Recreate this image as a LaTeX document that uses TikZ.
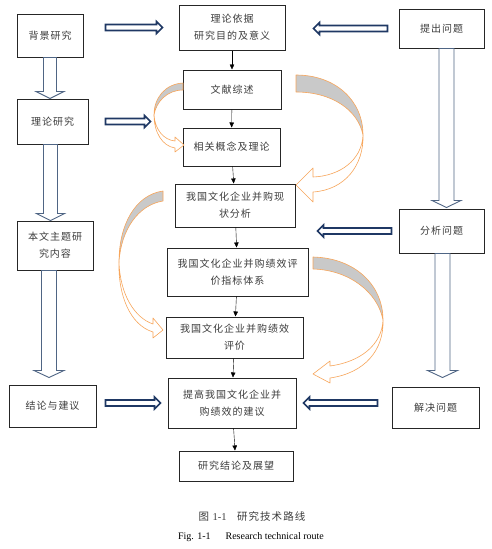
\documentclass[tikz,border=0pt]{standalone}
\usepackage{fontspec}
\setmainfont{Liberation Serif}
\newfontfamily\cjk[LetterSpace=10]{Noto Sans CJK SC}
\usepackage{tikz}
\usetikzlibrary{calc, arrows.meta}

\definecolor{navy}{HTML}{1F3864}
\definecolor{slate}{HTML}{4F6584}
\definecolor{peach}{HTML}{F7A55A}
\definecolor{shade}{HTML}{C9C9C9}
\definecolor{ink}{HTML}{3C3C3C}

\tikzset{
  box/.style={draw=black!85, line width=1pt, fill=white, text=ink, align=center, inner sep=2pt,
    font=\cjk\fontsize{10}{17}\selectfont},
  wh/.style 2 args={minimum width=#1, minimum height=#2},
  flat/.style={draw=navy, line width=1.6pt, fill=white, line join=miter},
  tall/.style={draw=slate, line width=0.9pt, fill=white},
  uturn/.style={draw=peach, line width=0.6pt, line join=round},
}

% hollow block arrow: from, to, half shaft, half head, head length, style
\newcommand{\hollowarrow}[6]{%
  \coordinate (ba-s) at (#1);
  \coordinate (ba-e) at (#2);
  \coordinate (ba-h) at ($(ba-e)!#5!(ba-s)$);
  \draw[#6] ($(ba-s)!#3!90:(ba-e)$) -- ($(ba-h)!#3!-90:(ba-s)$) -- ($(ba-h)!#4!-90:(ba-s)$)
    -- (ba-e) -- ($(ba-h)!#4!90:(ba-s)$) -- ($(ba-h)!#3!90:(ba-s)$) -- ($(ba-s)!#3!-90:(ba-e)$) -- cycle;
}

\begin{document}
\begin{tikzpicture}[x=1pt, y=-1pt, -{Triangle[length=5pt, width=4.5pt]}]
    \useasboundingbox (0,0) rectangle (492,549);
    % left column
    \node[box, wh={66pt}{43pt}] (bj) at (50,35.5) {背景研究};
    \node[box, wh={71pt}{45pt}] (ll) at (52.5,121.5) {理论研究};
    \node[box, wh={76pt}{49pt}] (zt) at (55,245.5) {本文主题研\\究内容};
    \node[box, wh={87pt}{42pt}] (jl) at (52.5,406) {结论与建议};
    % middle column
    \node[box, wh={106pt}{45pt}] (yj) at (232,27.5) {理论依据\\研究目的及意义};
    \node[box, wh={98pt}{39pt}] (wx) at (232,89.5) {文献综述};
    \node[box, wh={97pt}{38pt}] (xg) at (231.5,147) {相关概念及理论};
    \node[box, wh={120pt}{43pt}] (xz) at (235,205.5) {我国文化企业并购现\\状分析};
    \node[box, wh={141pt}{48pt}] (zb) at (237.5,272) {我国文化企业并购绩效评\\价指标体系};
    \node[box, wh={137pt}{41pt}] (pj) at (234.5,337.5) {我国文化企业并购绩效\\评价};
    \node[box, wh={128pt}{50pt}] (jy) at (232,403) {提高我国文化企业并\\购绩效的建议};
    \node[box, wh={114pt}{30pt}] (zw) at (236,466) {研究结论及展望};
    % right column
    \node[box, wh={85pt}{39pt}] (tc) at (441.5,28.5) {提出问题};
    \node[box, wh={85pt}{44pt}] (fx) at (441.5,231) {分析问题};
    \node[box, wh={87pt}{41pt}] (jj) at (435.5,407.5) {解决问题};
    % captions
    \node[font=\cjk\fontsize{10.5}{12}\selectfont, text=ink] (cap) at (252,516) {图 {\rmfamily 1-1}\quad 研究技术路线};
    \node[font=\fontsize{10}{12}\selectfont] (capen) at (251,537) {Fig. 1-1\hspace{1.5em}Research technical route};
    % middle chain
    \draw (yj) -- (wx);
    \draw (wx) -- (xg);
    \draw (xg) -- (xz);
    \draw (xz) -- (zb);
    \draw (zb) -- (pj);
    \draw (pj) -- (jy);
    \draw (jy) -- (zw);
    % horizontal block arrows
    \hollowarrow{$(bj.east |- yj.west)+(22,0)$}{$(yj.west)+(-16,0)$}{3pt}{6pt}{6pt}{flat}
    \hollowarrow{$(ll.east)+(17,0)$}{$(ll.east)+(62,0)$}{3pt}{6pt}{6pt}{flat}
    \hollowarrow{$(tc.west)+(-11,0)$}{$(yj.east |- tc.west)+(28,0)$}{3pt}{6pt}{6pt}{flat}
    \hollowarrow{$(fx.west)+(-7,0)$}{$(xz.east |- fx.west)+(22,0)$}{3pt}{6pt}{6pt}{flat}
    \hollowarrow{$(jl.east |- jy.west)+(9,0)$}{$(jy.west)+(-7,0)$}{3pt}{6pt}{6pt}{flat}
    \hollowarrow{$(jj.west |- jy.east)+(-14,0)$}{$(jy.east)+(7,0)$}{3pt}{6pt}{6pt}{flat}
    % vertical block arrows
    \hollowarrow{bj.south}{bj.south |- ll.north}{6.5pt}{14pt}{7pt}{tall}
    \hollowarrow{$(ll.south)+(-2,0)$}{$(ll.south |- zt.north)+(-2,0)$}{7pt}{14pt}{7pt}{tall}
    \hollowarrow{$(zt.south)+(-6,0)$}{$(zt.south |- jl.north)+(-6,-7)$}{7.5pt}{15pt}{7pt}{tall}
    \hollowarrow{$(tc.south)+(5,0)$}{$(tc.south |- fx.north)+(5,-1)$}{7.5pt}{14.5pt}{7pt}{tall}
    \hollowarrow{$(fx.south)+(1,0)$}{$(fx.south |- jj.north)+(1,-9)$}{7.5pt}{15pt}{7pt}{tall}
    % curved arrows (back part shaded)
    \filldraw[uturn, fill=shade, -] (183,83) .. controls (165,84) and (154,98) .. (154,115)
      .. controls (156,102) and (167,90) .. (183,90) -- cycle;
    \filldraw[uturn, fill=white, -] (154,115) .. controls (155,130) and (164,140) .. (175,141)
      -- (175,137) -- (184,145) -- (175,152) -- (175,148) .. controls (162,146) and (154,132) .. (154,115);
    \filldraw[uturn, fill=shade, -] (296,75) .. controls (335,75) and (363,100) .. (363,135)
      .. controls (358,110) and (332,92) .. (296,92) -- cycle;
    \filldraw[uturn, fill=white, -] (363,135) .. controls (362,160) and (340,176) .. (313,177)
      -- (313,168) -- (296,185) -- (313,202) -- (313,192) .. controls (345,190) and (364,165) .. (363,135);
    \filldraw[uturn, fill=shade, -] (163,191) .. controls (135,195) and (119,225) .. (119,262)
      .. controls (121,230) and (138,205) .. (163,201) -- cycle;
    \filldraw[uturn, fill=white, -] (119,262) .. controls (120,295) and (135,318) .. (153,324)
      -- (153,318) -- (163,330) -- (153,338) -- (153,332) .. controls (130,325) and (118,295) .. (119,262);
    \filldraw[uturn, fill=shade, -] (313,257) .. controls (355,258) and (383,285) .. (383,320)
      .. controls (378,293) and (350,270) .. (313,269) -- cycle;
    \filldraw[uturn, fill=white, -] (383,320) .. controls (382,345) and (360,362) .. (330,366)
      -- (330,361) -- (313,374) -- (330,383) -- (330,378) .. controls (365,373) and (384,350) .. (383,320);
\end{tikzpicture}
\end{document}
